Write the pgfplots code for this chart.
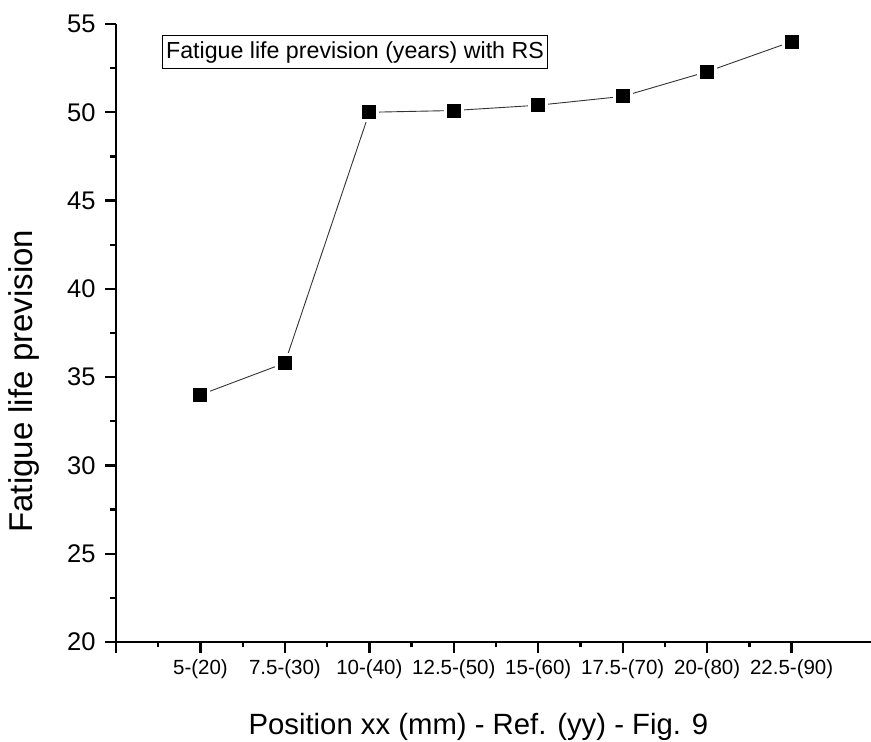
\documentclass[border=0pt]{standalone}
\usepackage{fontspec}
\setmainfont{Liberation Sans}
\usepackage{pgfplots}
\pgfplotsset{compat=1.18}

\begin{document}
\begin{tikzpicture}
\begin{axis}[
  scale only axis,
  width=755pt, height=618pt,
  xmin=0, xmax=8.94,
  ymin=20, ymax=55,
  axis x line*=bottom,
  axis y line*=left,
  axis line style={line width=2.3pt, black},
  tick align=outside,
  major tick length=11pt,
  minor tick length=5.5pt,
  every tick/.style={line width=2.3pt, black},
  xtick={0,1,2,3,4,5,6,7,8},
  xticklabels={,5-(20),7.5-(30),10-(40),12.5-(50),15-(60),17.5-(70),20-(80),22.5-(90)},
  minor x tick num=1,
  ytick={20,25,30,35,40,45,50,55},
  minor y tick num=1,
  /pgf/number format/assume math mode=true,
  xticklabel style={font=\fontsize{20.5}{20.5}\selectfont, yshift=-3pt},
  yticklabel style={font=\fontsize{25.5}{25.5}\selectfont, xshift=-6pt},
  xlabel={Position xx (mm) - Ref. (yy) - Fig. 9},
  ylabel={Fatigue life prevision},
  every axis x label/.style={at={(axis description cs:0.48,0)}, anchor=base, yshift=-93pt, font=\fontsize{29.3}{29.3}\selectfont},
  every axis y label/.style={at={(axis description cs:0,0.422)}, xshift=-83pt, rotate=90, anchor=base, font=\fontsize{33}{33}\selectfont},
  clip=false,
]
\addplot[
  black!80, line width=0.9pt,
  mark=square*,
  mark size=8.5pt,
  mark options={solid, fill=black, draw=white, line width=3pt},
] coordinates {
  (1,34.0) (2,35.8) (3,50.0) (4,50.1) (5,50.4) (6,50.9) (7,52.3) (8,54.0)
};
\node[draw=black, line width=0.8pt, anchor=north west, inner xsep=4pt,
      minimum height=33pt, font=\fontsize{23.2}{23.2}\selectfont]
  at (rel axis cs:0.0605,0.982) {Fatigue life prevision (years) with RS};
\end{axis}
\pgfresetboundingbox
\path ([xshift=-116pt,yshift=-100pt]current axis.south west)
  rectangle ([yshift=24pt]current axis.north east);
\end{tikzpicture}
\end{document}
